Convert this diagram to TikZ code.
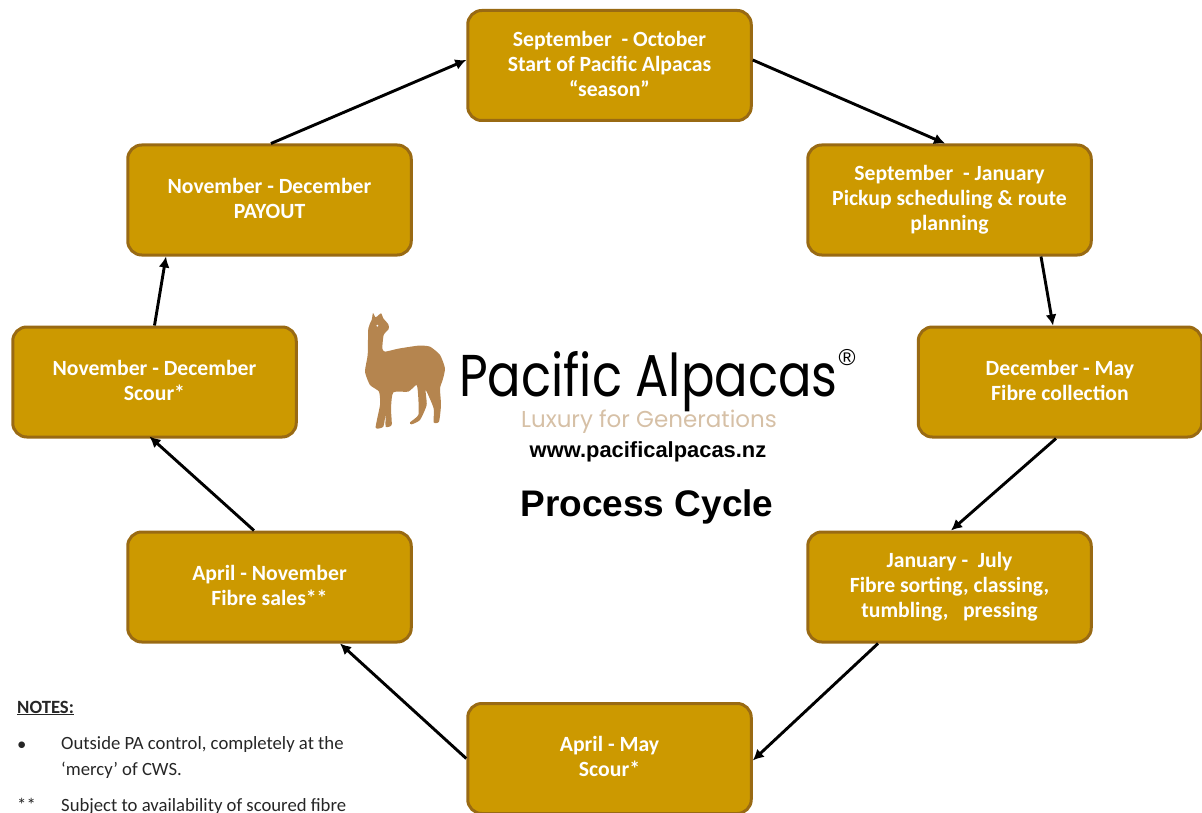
\documentclass[tikz,border=0pt]{standalone}
\usepackage{fontspec}
\setmainfont{Carlito}
\newfontfamily\logofont{Poppins}
\newfontfamily\arialfont{Liberation Sans}
\usetikzlibrary{arrows.meta}
\definecolor{boxfill}{HTML}{CC9900}
\definecolor{boxline}{HTML}{996A13}
\definecolor{llama}{HTML}{B5854F}
\definecolor{tagline}{HTML}{D6C0A6}
\definecolor{notetext}{HTML}{262626}
\tikzset{
  stagebox/.style={draw=boxline,fill=boxfill,line width=3pt,rounded corners=14pt,
    minimum width=283.5pt,minimum height=110pt,align=center,text=white,inner sep=0pt,
    font=\fontsize{21.7}{25}\selectfont\bfseries,
    execute at end node={\rule[-4pt]{0pt}{0pt}}},
  flow/.style={draw=black,line width=2.9pt,-{Latex[length=11pt,width=11pt]}},
  note/.style={anchor=base west,inner sep=0pt,text=notetext,font=\fontsize{18.7}{22}\selectfont}
}
\begin{document}
\begin{tikzpicture}[x=1pt,y=-1pt]
\useasboundingbox (0,0) rectangle (1202,813);
% boxes
\node[stagebox] (top) at (609.5,65.5) {September\ \ - October\\Start of Pacific Alpacas\\“season”};
\node[stagebox] (pickup) at (949.5,200) {September\ \ - January\\Pickup scheduling \& route\\planning};
\node[stagebox] (collect) at (1060,382) {December - May\\Fibre collection};
\node[stagebox] (sort) at (949.5,587) {January -\ \ July\\Fibre sorting, classing,\\tumbling,\ \ \ pressing};
\node[stagebox] (scouranz) at (609.5,758.5) {April - May\\Scour*};
\node[stagebox] (sales) at (269.5,587) {April - November\\Fibre sales**};
\node[stagebox] (scournov) at (154.5,382) {November - December\\Scour*};
\node[stagebox] (payout) at (269.5,200) {November - December\\PAYOUT};
% connectors
\draw[flow] ([yshift=5.5pt]top.east) -- ([xshift=-4.5pt]pickup.north);
\draw[flow] ([xshift=91.5pt]pickup.south) -- ([xshift=-7pt]collect.north);
\draw[flow] ([xshift=-4pt]collect.south) -- ([xshift=1.5pt]sort.north);
\draw[flow] ([xshift=-71.5pt]sort.south) -- ([yshift=-2pt]scouranz.east);
\draw[flow] (scouranz.west) -- ([xshift=70.5pt]sales.south);
\draw[flow] ([xshift=-15.5pt]sales.north) -- ([xshift=-5pt,yshift=2pt]scournov.south);
\draw[flow] (scournov.north) -- ([xshift=-103.5pt]payout.south);
\draw[flow] ([xshift=1.5pt]payout.north) -- ([yshift=5.5pt]top.west);
% alpaca
\begin{scope}[shift={(355,305)},x=0.3333pt,y=-0.3333pt]
\fill[llama] plot[smooth cycle,tension=0.35] coordinates {
 (54,24) (62,37) (78,25) (85,40) (100,58) (101,72) (86,90) (82,130) (90,140)
 (130,131) (190,122) (225,125) (255,150) (270,190) (263,225) (255,250) (258,300) (252,350)
 (236,352) (236,310) (212,255) (215,300) (195,345) (170,358) (165,352) (190,330) (190,280) (185,240)
 (160,260) (115,262) (108,310) (110,360) (92,365) (92,325) (85,365) (62,368) (75,300) (72,260)
 (45,240) (30,200) (38,150) (40,70) (50,45)};
\fill[white] (67,62) circle (3);
\end{scope}
% logo text
\node[anchor=base west,inner sep=0pt,font=\logofont\fontsize{59}{60}\selectfont] (brand) at (459,396.5) {\scalebox{0.84}[1]{Pacific Alpacas}};
\node[anchor=center,inner sep=0pt,font=\arialfont\fontsize{23}{25}\selectfont] (reg) at (847,358) {®};
\node[anchor=base,inner sep=0pt,text=tagline,font=\logofont\fontsize{23}{26}\selectfont] (tag) at (649,427) {Luxury for Generations};
\node[anchor=base,inner sep=0pt,font=\arialfont\fontsize{21.9}{25}\selectfont\bfseries] (web) at (648,457) {www.pacificalpacas.nz};
\node[anchor=base,inner sep=0pt,font=\arialfont\fontsize{37}{42}\selectfont\bfseries] (title) at (647,516) {Process Cycle};
% notes
\node[note,font=\fontsize{18.7}{22}\selectfont\bfseries] (nh) at (17,713) {\underline{NOTES:}};
\node[note] (b1) at (17,750) {•};
\node[note] (n1) at (61,749) {Outside PA control, completely at the};
\node[note] (n2) at (61,775) {‘mercy’ of CWS.};
\node[note] (b2) at (17,811) {**};
\node[note] (n3) at (61,811) {Subject to availability of scoured fibre};
\end{tikzpicture}
\end{document}
